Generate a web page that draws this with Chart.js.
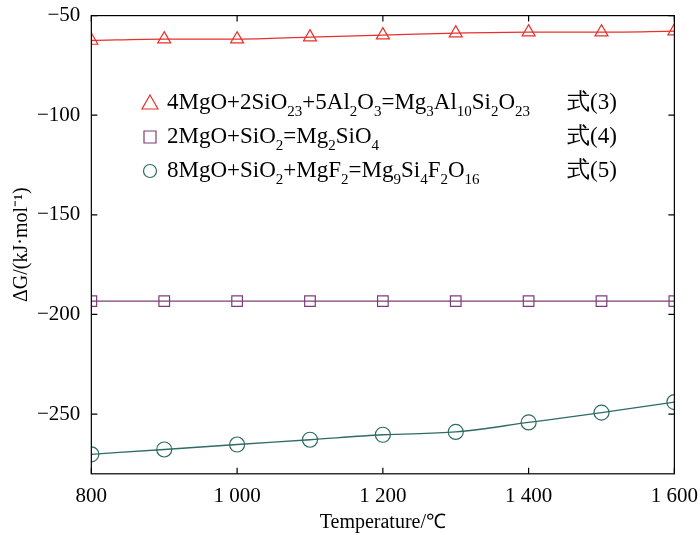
<!DOCTYPE html><html><head><script src="https://cdn.jsdelivr.net/npm/chart.js@4"></script>
<style>body{margin:0;background:#fff}</style></head><body>
<div style="width:700px;height:535px"><canvas id="c"></canvas></div>
<script>
const temps=[800,900,1000,1100,1200,1300,1400,1500,1600];
const eq3=[-62.5,-61.8,-61.8,-60.8,-59.8,-58.8,-58.3,-58.3,-57.8];
const eq4=[-193.3,-193.3,-193.3,-193.3,-193.3,-193.3,-193.3,-193.3,-193.3];
const eq5=[-270.2,-267.8,-265.3,-262.9,-260.4,-259,-254.2,-249.3,-244];
const xTicks=[800,1000,1200,1400,1600];
const yTicks=[-250,-200,-150,-100,-50];
const F='"Liberation Serif", "Times New Roman", serif';
const fmtX=v=>v>=1000?String(v).replace(/(\d)(\d{3})$/,'$1 $2'):String(v);
const mk=(d,c,s)=>({data:d.map((y,i)=>({x:temps[i],y})),borderColor:c,borderWidth:1.3,pointStyle:s,pointRadius:7.5,pointBorderWidth:1.2,pointBackgroundColor:'rgba(0,0,0,0)',pointBorderColor:c,tension:0.4,cubicInterpolationMode:'monotone'});
const legend=[
 {c:'#e8302c',s:'tri',t:[['4MgO+2SiO'],['23',1],['+5Al'],['2',1],['O'],['3',1],['=Mg'],['3',1],['Al'],['10',1],['Si'],['2',1],['O'],['23',1]],n:'式(3)'},
 {c:'#7a3e7a',s:'sq',t:[['2MgO+SiO'],['2',1],['=Mg'],['2',1],['SiO'],['4',1]],n:'式(4)'},
 {c:'#2e6b65',s:'ci',t:[['8MgO+SiO'],['2',1],['+MgF'],['2',1],['=Mg'],['9',1],['Si'],['4',1],['F'],['2',1],['O'],['16',1]],n:'式(5)'}];
const plug={id:'p',afterDraw(ch){const g=ch.ctx,a=ch.chartArea,xs=ch.scales.x,ys=ch.scales.y;
 g.save();g.strokeStyle='#000';g.lineWidth=1.2;g.strokeRect(a.left,a.top,a.right-a.left,a.bottom-a.top);
 g.beginPath();
 xTicks.forEach(v=>{const p=xs.getPixelForValue(v);g.moveTo(p,a.bottom);g.lineTo(p,a.bottom-6);g.moveTo(p,a.top);g.lineTo(p,a.top+6);});
 yTicks.forEach(v=>{const p=ys.getPixelForValue(v);g.moveTo(a.left,p);g.lineTo(a.left+6,p);g.moveTo(a.right,p);g.lineTo(a.right-6,p);});
 g.stroke();
 legend.forEach((L,i)=>{const y=103+i*34,x=150;g.strokeStyle=L.c;g.lineWidth=1.2;g.beginPath();
  if(L.s=='tri'){g.moveTo(x,y-8);g.lineTo(x+8,y+6);g.lineTo(x-8,y+6);g.closePath();}
  else if(L.s=='sq'){g.rect(x-6,y-6,12,12);}else{g.arc(x,y,6.5,0,7);}
  g.stroke();g.fillStyle='#000';g.textBaseline='middle';let cx=167;
  L.t.forEach(([s,sub])=>{g.font=(sub?'15px ':'23px ')+F;g.fillText(s,cx,sub?y+9:y);cx+=g.measureText(s).width;});
  g.font='23px '+F;g.fillText(L.n,567,y);});
 g.restore();}};
new Chart(document.getElementById('c'),{type:'line',data:{datasets:[mk(eq3,'#e8302c','triangle'),mk(eq4,'#7a3e7a','rect'),mk(eq5,'#2e6b65','circle')]},
 options:{responsive:true,maintainAspectRatio:false,animation:false,layout:{padding:{top:2,right:10,left:6,bottom:0}},
 plugins:{legend:{display:false},tooltip:{enabled:false}},
 scales:{x:{type:'linear',min:800,max:1600,afterBuildTicks:s=>{s.ticks=xTicks.map(v=>({value:v}))},grid:{display:false},border:{display:false},
   ticks:{color:'#000',font:{family:F,size:21},callback:fmtX,maxRotation:0,padding:2},title:{display:true,text:'Temperature/℃',color:'#000',font:{family:F,size:20},padding:{top:0,bottom:0}}},
  y:{min:-280,max:-50,afterBuildTicks:s=>{s.ticks=yTicks.map(v=>({value:v}))},grid:{display:false},border:{display:false},
   ticks:{color:'#000',font:{family:F,size:21},callback:v=>'−'+Math.abs(v)},title:{display:true,text:'ΔG/(kJ·mol⁻¹)',color:'#000',font:{family:F,size:20},padding:{bottom:0}}}}},
 plugins:[plug]});
</script></body></html>
